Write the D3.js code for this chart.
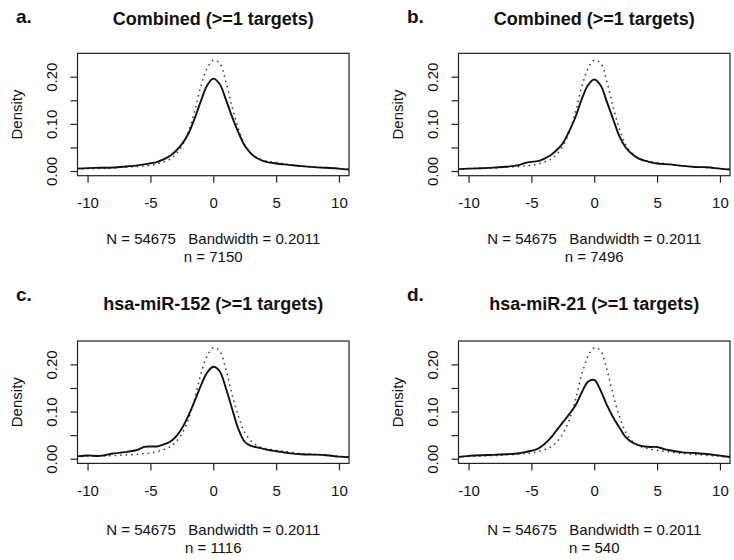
<!DOCTYPE html>
<html>
<head>
<meta charset="utf-8">
<script src="https://cdn.jsdelivr.net/npm/d3@7"></script>
<style>
    body { margin: 0; background: #fff; }
    text { font-family: "Liberation Sans", Arial, Helvetica, sans-serif; fill: #111; white-space: pre; }
</style>
</head>
<body>
<div id="wrapper"></div>
<script>
const gridX = [-10.85, -10, -9, -8, -7, -6, -5.5, -5, -4.5, -4, -3.5, -3, -2.5, -2, -1.5, -1, -0.5, 0,
    0.5, 1, 1.5, 2, 2.5, 3, 3.5, 4, 4.5, 5, 5.5, 6, 7, 8, 9, 10, 10.85];

// dotted: all genes (N = 54675)
const allDensity = [0.004, 0.005, 0.0055, 0.0065, 0.008, 0.0095, 0.011, 0.012, 0.015, 0.019, 0.024, 0.035, 0.053, 0.082, 0.125, 0.178, 0.217, 0.235,
    0.229, 0.190, 0.136, 0.090, 0.056, 0.038, 0.028, 0.023, 0.020, 0.018, 0.016, 0.014, 0.011, 0.009, 0.007, 0.005, 0.0035];

// solid: target subsets
const aDensity = [0.005, 0.0062, 0.0068, 0.0075, 0.0095, 0.012, 0.014, 0.0165, 0.019, 0.024, 0.031, 0.042, 0.057, 0.078, 0.110, 0.147, 0.181, 0.196,
    0.185, 0.152, 0.115, 0.082, 0.054, 0.037, 0.027, 0.021, 0.0178, 0.016, 0.0145, 0.013, 0.0105, 0.0082, 0.0068, 0.0052, 0.003];
const bDensity = [0.004, 0.005, 0.006, 0.0072, 0.009, 0.0125, 0.017, 0.0195, 0.021, 0.026, 0.033, 0.044, 0.059, 0.084, 0.114, 0.152, 0.182, 0.194,
    0.182, 0.147, 0.110, 0.074, 0.050, 0.036, 0.027, 0.022, 0.0185, 0.016, 0.015, 0.014, 0.011, 0.0085, 0.008, 0.005, 0.003];
const cDensity = [0.005, 0.007, 0.006, 0.011, 0.014, 0.019, 0.025, 0.026, 0.026, 0.030, 0.035, 0.046, 0.064, 0.090, 0.121, 0.154, 0.182, 0.195,
    0.186, 0.150, 0.106, 0.063, 0.036, 0.027, 0.024, 0.021, 0.018, 0.016, 0.014, 0.012, 0.0095, 0.0088, 0.0075, 0.0045, 0.003];
const dDensity = [0.0035, 0.006, 0.0075, 0.0082, 0.0095, 0.0115, 0.014, 0.017, 0.021, 0.030, 0.043, 0.060, 0.077, 0.094, 0.113, 0.140, 0.163, 0.167,
    0.145, 0.114, 0.088, 0.066, 0.046, 0.035, 0.029, 0.026, 0.025, 0.025, 0.021, 0.018, 0.0135, 0.012, 0.010, 0.0065, 0.0035];

const letters = ["a.", "b.", "c.", "d."];
const titles = ["Combined (>=1 targets)", "Combined (>=1 targets)", "hsa-miR-152 (>=1 targets)", "hsa-miR-21 (>=1 targets)"];
const subsetN = [7150, 7496, 1116, 540];
const xTicks = [-10, -5, 0, 5, 10];
const yTicks = [0, 0.05, 0.10, 0.15, 0.20];
const yLabelTicks = [0, 0.10, 0.20];
const xlabText = "N = 54675   Bandwidth = 0.2011";

async function buildPlot() {
    var dimension = {
        width: 734,
        height: 560,
        boxWidth: 271.5,
        boxHeight: 122.4,
        colX: [77.5, 458.5],
        rowY: [53.3, 341],
        letterX: [16, 407],
        letterY: [23, 301],
        titleY: [25, 309.5],
        xlabGap: [68.5, 72],
    };

    const solids = [aDensity, bDensity, cDensity, dDensity];

    const wrapper = d3.select("#wrapper");
    const svg = wrapper.append("svg")
        .attr("width", dimension.width)
        .attr("height", dimension.height);

    svg.append("rect")
        .attr("width", dimension.width)
        .attr("height", dimension.height)
        .attr("fill", "#fff");

    const xScaler = d3.scaleLinear()
        .domain([-10.8, 10.8])
        .range([0, dimension.boxWidth]);

    const yScaler = d3.scaleLinear()
        .domain([-0.0099, 0.2496])
        .range([dimension.boxHeight, 0]);

    const line = d3.line()
        .x((d) => xScaler(d[0]))
        .y((d) => yScaler(d[1]))
        .curve(d3.curveCatmullRom.alpha(0.5));

    for (let i = 0; i < 4; i++) {
        const col = i % 2;
        const row = Math.floor(i / 2);
        const left = dimension.colX[col];
        const top = dimension.rowY[row];

        // panel letter and title
        svg.append("text")
            .attr("x", dimension.letterX[col])
            .attr("y", dimension.letterY[row])
            .style("font-size", "19px")
            .style("font-weight", "bold")
            .text(letters[i]);

        svg.append("text")
            .attr("x", left + dimension.boxWidth / 2)
            .attr("y", dimension.titleY[row])
            .attr("text-anchor", "middle")
            .style("font-size", "18px")
            .style("font-weight", "bold")
            .text(titles[i]);

        const g = svg.append("g")
            .attr("transform", `translate(${left}, ${top})`);

        const clipId = "clip" + i;
        g.append("clipPath")
            .attr("id", clipId)
            .append("rect")
            .attr("width", dimension.boxWidth)
            .attr("height", dimension.boxHeight);

        const curves = g.append("g").attr("clip-path", `url(#${clipId})`);

        curves.append("path")
            .datum(gridX.map((x, k) => [x, allDensity[k]]))
            .attr("d", line)
            .attr("fill", "none")
            .attr("stroke", "#444")
            .attr("stroke-width", 1.7)
            .attr("stroke-linecap", "round")
            .attr("stroke-dasharray", "0.1,5.4");

        curves.append("path")
            .datum(gridX.map((x, k) => [x, solids[i][k]]))
            .attr("d", line)
            .attr("fill", "none")
            .attr("stroke", "#111")
            .attr("stroke-width", 1.9)
            .attr("stroke-linejoin", "round");

        g.append("rect")
            .attr("width", dimension.boxWidth)
            .attr("height", dimension.boxHeight)
            .attr("fill", "none")
            .attr("stroke", "#222")
            .attr("stroke-width", 1.2);

        // axes
        const xAxisGenerator = d3.axisBottom()
            .scale(xScaler)
            .tickValues(xTicks)
            .tickSize(7)
            .tickFormat((d) => String(d));

        const xAxis = g.append("g")
            .attr("transform", `translate(0, ${dimension.boxHeight})`)
            .call(xAxisGenerator);
        xAxis.select(".domain").remove();
        xAxis.selectAll("line").attr("stroke", "#222").attr("stroke-width", 1.2);
        xAxis.selectAll("text")
            .attr("y", 27.5)
            .attr("dy", "0.35em")
            .style("font-size", "15px")
            .style("font-family", "'Liberation Sans', Arial, sans-serif")
            .attr("fill", "#111");

        const yAxisGenerator = d3.axisLeft()
            .scale(yScaler)
            .tickValues(yTicks)
            .tickSize(7)
            .tickFormat((d) => yLabelTicks.some((v) => Math.abs(v - d) < 1e-9) ? d.toFixed(2) : "");

        const yAxis = g.append("g").call(yAxisGenerator);
        yAxis.select(".domain").remove();
        yAxis.selectAll("line").attr("stroke", "#222").attr("stroke-width", 1.2);
        yAxis.selectAll("text")
            .attr("x", 0)
            .attr("dy", "0.36em")
            .attr("transform", "translate(-26, 0) rotate(-90)")
            .attr("text-anchor", "middle")
            .style("font-size", "15px")
            .style("font-family", "'Liberation Sans', Arial, sans-serif")
            .attr("fill", "#111");

        g.append("text")
            .attr("transform", `translate(-61, ${dimension.boxHeight / 2}) rotate(-90)`)
            .attr("dy", "0.36em")
            .attr("text-anchor", "middle")
            .style("font-size", "15px")
            .text("Density");

        g.append("text")
            .attr("x", dimension.boxWidth / 2)
            .attr("y", dimension.boxHeight + dimension.xlabGap[row])
            .attr("text-anchor", "middle")
            .style("font-size", "15px")
            .text(xlabText);

        g.append("text")
            .attr("x", dimension.boxWidth / 2)
            .attr("y", dimension.boxHeight + dimension.xlabGap[row] + 17.5)
            .attr("text-anchor", "middle")
            .style("font-size", "15px")
            .text("n = " + subsetN[i]);
    }
}

buildPlot()
</script>
</body>
</html>
